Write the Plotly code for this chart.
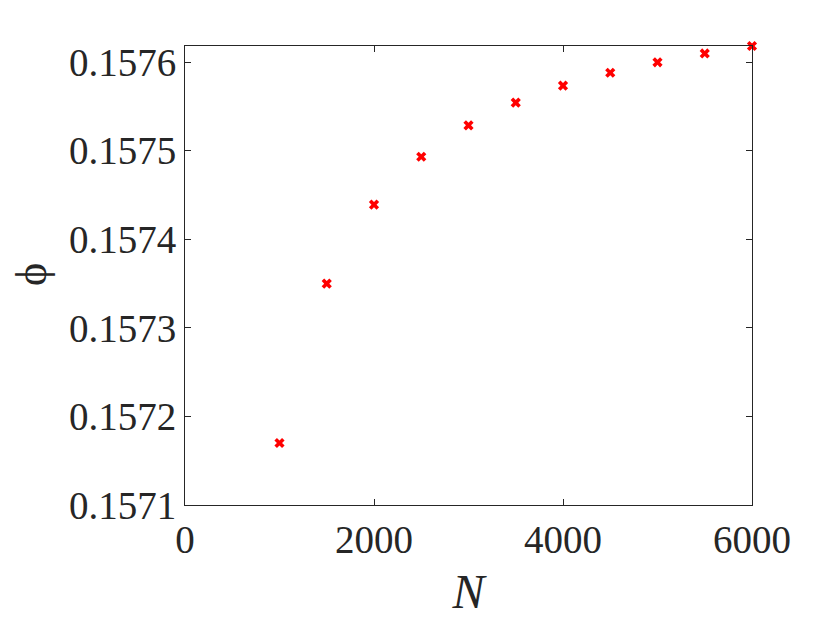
import plotly.graph_objects as go

N = [1000, 1500, 2000, 2500, 3000, 3500, 4000, 4500, 5000, 5500, 6000]
phi = [0.157170, 0.157350, 0.1574392, 0.1574933, 0.1575288, 0.1575544,
       0.1575736, 0.1575882, 0.1576000, 0.1576100, 0.1576184]

x_ticks = [0, 2000, 4000, 6000]
y_ticks = [0.1571, 0.1572, 0.1573, 0.1574, 0.1575, 0.1576]
y_tick_text = ["0.1571", "0.1572", "0.1573", "0.1574", "0.1575", "0.1576"]

axcol = "#262626"
font = "Liberation Serif"

fig = go.Figure()
fig.add_trace(go.Scatter(
    x=N, y=phi, mode="markers",
    marker=dict(symbol="x", size=9, color="#ff0000", line=dict(width=0)),
    cliponaxis=False, showlegend=False,
))

fig.update_layout(
    width=830, height=623,
    margin=dict(l=177, r=86, t=38, b=126),
    plot_bgcolor="white", paper_bgcolor="white",
    font=dict(family=font, color=axcol, size=39),
)
fig.update_xaxes(
    range=[0, 6000], tickvals=x_ticks, ticktext=[str(v) for v in x_ticks],
    ticks="inside", ticklen=6, tickcolor=axcol, tickwidth=1,
    showline=True, linecolor=axcol, linewidth=1, mirror="ticks",
    showgrid=False, zeroline=False,
    tickfont=dict(size=39, family=font, color=axcol),
    title=dict(text="<i>N</i>", font=dict(size=48, family=font, color=axcol), standoff=14),
)
fig.update_yaxes(
    range=[0.1571, 0.1576184], tickvals=y_ticks, ticktext=y_tick_text,
    ticks="inside", ticklen=6, tickcolor=axcol, tickwidth=1,
    showline=True, linecolor=axcol, linewidth=1, mirror="ticks",
    showgrid=False, zeroline=False,
    tickfont=dict(size=39, family=font, color=axcol),
)
fig.add_annotation(
    text="ϕ", xref="paper", yref="paper", x=-0.272, y=0.503,
    xanchor="center", yanchor="middle", textangle=-90, showarrow=False,
    font=dict(size=44, family=font, color=axcol),
)

fig.write_html("out.html")
